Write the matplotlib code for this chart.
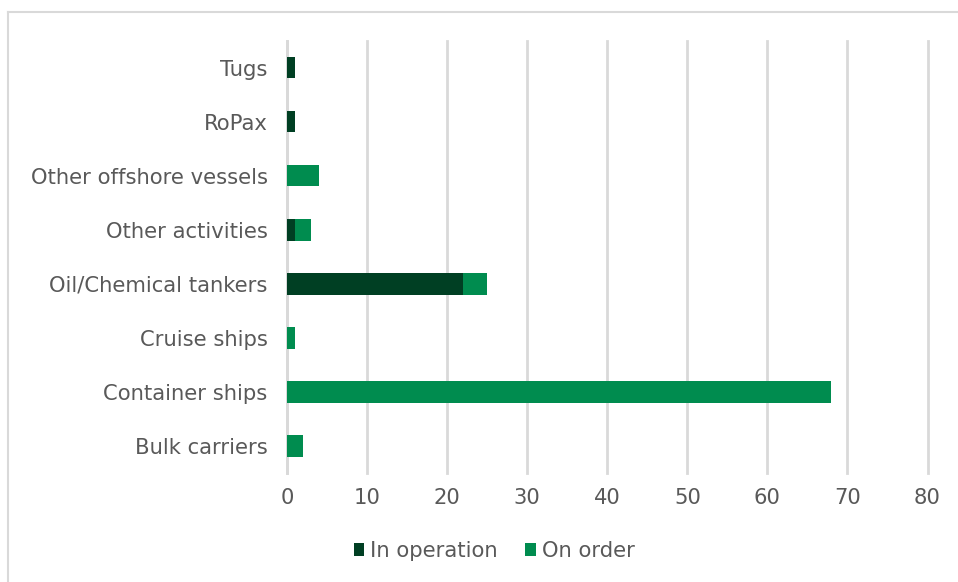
import matplotlib.pyplot as plt
from matplotlib.lines import Line2D
import numpy as np

# Vessel categories, bottom to top
categories = [
    "Bulk carriers",
    "Container ships",
    "Cruise ships",
    "Oil/Chemical tankers",
    "Other activities",
    "Other offshore vessels",
    "RoPax",
    "Tugs",
]
in_operation = [0, 0, 0, 22, 1, 0, 1, 1]
on_order = [2, 68, 1, 3, 2, 4, 0, 0]
x_ticks = [0, 10, 20, 30, 40, 50, 60, 70, 80]

DARK_GREEN = "#003f23"
GREEN = "#008c4f"
TEXT_GRAY = "#595959"
GRID_GRAY = "#d9d9d9"
FONT_SIZE = 15.2

plt.rcParams["font.family"] = ["DejaVu Sans"]

fig = plt.figure(figsize=(9.58, 5.82), dpi=100)
ax = fig.add_axes([287 / 958, 1 - 473 / 582, (927.5 - 287) / 958, (473 - 40.5) / 582])

y = np.arange(len(categories))
ax.barh(y, in_operation, height=0.4, color=DARK_GREEN, label="In operation", zorder=3)
ax.barh(y, on_order, height=0.4, left=in_operation, color=GREEN, label="On order", zorder=3)

ax.set_xlim(0, 80)
ax.set_ylim(-0.5, len(categories) - 0.5)
ax.set_xticks(x_ticks)
ax.set_yticks(y)
ax.set_yticklabels(categories)
ax.xaxis.grid(True, color=GRID_GRAY, linewidth=2, zorder=0)
for gl in ax.get_xgridlines():
    gl.set_clip_on(False)
ax.set_axisbelow(True)

for side in ["top", "right", "bottom"]:
    ax.spines[side].set_visible(False)
ax.spines["left"].set_color(GRID_GRAY)
ax.spines["left"].set_linewidth(2)

ax.tick_params(axis="both", length=0, labelsize=FONT_SIZE, colors=TEXT_GRAY)
ax.tick_params(axis="x", pad=11)
ax.tick_params(axis="y", pad=14)

leg = fig.legend(
    loc="center",
    bbox_to_anchor=(494 / 958, 1 - 551 / 582),
    ncol=2,
    frameon=False,
    fontsize=FONT_SIZE,
    handlelength=0.5,
    handleheight=0.5,
    handletextpad=0.28,
    columnspacing=1.3,
)
for txt in leg.get_texts():
    txt.set_color(TEXT_GRAY)

# light frame around the chart area
fig.add_artist(Line2D([8 / 958, 8 / 958], [0, 1 - 12 / 582], transform=fig.transFigure,
                      color=GRID_GRAY, linewidth=1.5))
fig.add_artist(Line2D([8 / 958, 1], [1 - 12 / 582, 1 - 12 / 582], transform=fig.transFigure,
                      color=GRID_GRAY, linewidth=1.5))

fig.savefig("out.png", dpi=100)
